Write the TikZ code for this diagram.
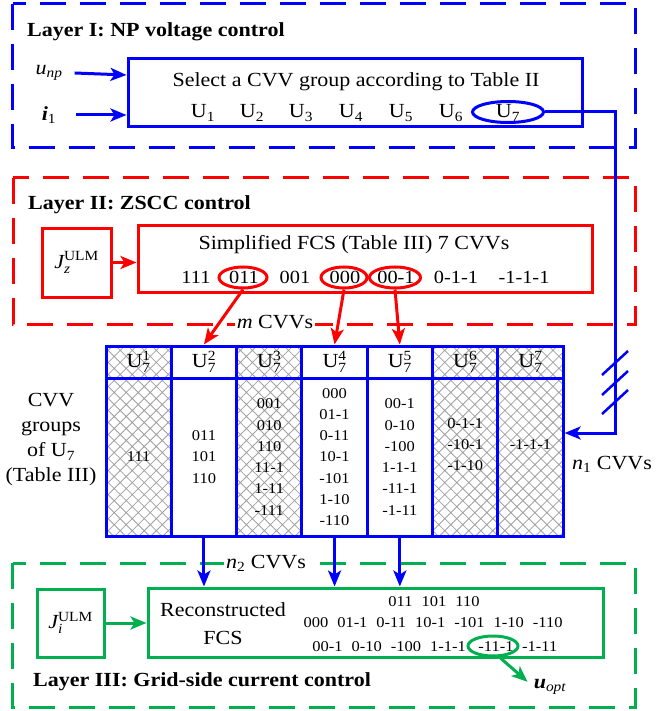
\documentclass[tikz,border=0pt]{standalone}
\usepackage{fontspec}
\usepackage{amsmath}
\setmainfont{Liberation Serif}[FakeStretch=1.1]
\usetikzlibrary{arrows.meta,patterns.meta,shapes.geometric}
\definecolor{myblue}{RGB}{0,0,255}
\definecolor{myred}{RGB}{255,0,0}
\definecolor{mygreen}{RGB}{0,176,80}
\newcommand\fbig{\fontsize{20}{25}\selectfont}
\newcommand\fmid{\fontsize{18.5}{22}\selectfont}
\newcommand\fcode{\fontsize{15}{21.3}\selectfont}
\newcommand\gp{\hspace{9pt}}
\newcommand\Uk[1]{U$^{\text{#1}}_{\text{7}}$}
\begin{document}
\begin{tikzpicture}[x=1pt,y=-1pt,
  dashbox/.style={line width=3pt, dash pattern=on 26pt off 14pt},
  box/.style={draw, line width=3pt, inner sep=0pt},
  arr/.style={line width=3pt, -{Stealth[length=16pt,width=13pt,inset=4pt]}},
  ell/.style={draw, ellipse, line width=3pt, inner sep=0pt},
  hatch/.style={pattern={Hatch[angle=45,distance=8.5pt,line width=0.8pt]}, pattern color=gray!75},
  txt/.style={inner sep=0pt, font=\fbig},
  code/.style={inner sep=0pt, font=\fmid},
  hcell/.style={box, myblue, minimum width=65.3pt, minimum height=32pt, font=\fbig, text=black},
  bcell/.style={box, myblue, minimum width=65.3pt, minimum height=158pt, font=\fcode, align=center, text=black},
]
\useasboundingbox (0,0) rectangle (655,711);

% ---------------- Layer I ----------------
\draw[dashbox, myblue] (12.5,4) rectangle (635,148);
\node[txt, anchor=west, font=\fbig\bfseries] (t1) at (27,32) {Layer I: NP voltage control};
\node[box, myblue, minimum width=454pt, minimum height=68pt] (sel) at (355,93) {};
\node[txt] (seltxt) at (356,82) {Select a CVV group according to Table II};
\node[txt] (u1) at (203,113) {U$_{\text{1}}$};
\node[txt] (u2) at (252,113) {U$_{\text{2}}$};
\node[txt] (u3) at (301,113) {U$_{\text{3}}$};
\node[txt] (u4) at (351,113) {U$_{\text{4}}$};
\node[txt] (u5) at (401,113) {U$_{\text{5}}$};
\node[txt] (u6) at (451,113) {U$_{\text{6}}$};
\node[txt] (u7) at (508,113) {U$_{\text{7}}$};
\node[ell, myblue, minimum width=71pt, minimum height=21pt] (eU7) at (508,112) {};
\node[txt] (unp) at (49,73) {\textit{u}$_{\text{\itshape np}}$};
\node[txt] (ione) at (49,115) {\textbf{\textit{i}}$_{\text{1}}$};
\draw[arr, myblue] ([xshift=12pt]unp.east) -- (sel.west |- 0,75);
\draw[arr, myblue] ([xshift=20pt]ione.east) -- (sel.west |- ione.east);

% ---------------- Layer II ----------------
\draw[dashbox, myred] (13,178) rectangle (635,324);
\node[txt, anchor=west, font=\fbig\bfseries] (t2) at (28,205) {Layer II: ZSCC control};
\node[box, myred, minimum width=69pt, minimum height=69pt] (jz) at (76.5,262.5) {};
\node[txt] (jztxt) at (76.5,262.5) {$\text{\itshape J}^{\text{ULM}}_{\text{\itshape z}}$};
\node[box, myred, minimum width=454pt, minimum height=67pt] (simp) at (365,258.5) {};
\node[txt] (simptxt) at (354,245) {Simplified FCS (Table III) 7 CVVs};
\draw[arr, myred] (jz.east) -- (simp.west |- jz.east);
\node[code] (c1) at (196,277) {111};
\node[code] (c2) at (244,277) {011};
\node[code] (c3) at (295,277) {001};
\node[code] (c4) at (345,277) {000};
\node[code] (c5) at (396,277) {00-1};
\node[code] (c6) at (456,277) {0-1-1};
\node[code] (c7) at (524,277) {-1-1-1};
\node[ell, myred, minimum width=48pt, minimum height=21pt] (e011) at (243,277.5) {};
\node[ell, myred, minimum width=46pt, minimum height=21pt] (e000) at (344,277.5) {};
\node[ell, myred, minimum width=51pt, minimum height=21pt] (e001) at (395,277.5) {};
\node[txt, fill=white, inner sep=2pt] (mlab) at (275,322) {\textit{m} CVVs};

% ---------------- Table ----------------
\node[hcell, hatch] (h1) at (138.65,362) {\Uk{1}};
\node[hcell] (h2) at (203.95,362) {\Uk{2}};
\node[hcell, hatch] (h3) at (269.25,362) {\Uk{3}};
\node[hcell] (h4) at (334.55,362) {\Uk{4}};
\node[hcell] (h5) at (399.85,362) {\Uk{5}};
\node[hcell, hatch] (h6) at (465.15,362) {\Uk{6}};
\node[hcell, hatch] (h7) at (530.45,362) {\Uk{7}};
\node[bcell, hatch] (b1) at (138.65,457) {111};
\node[bcell] (b2) at (203.95,457) {011\\101\\110};
\node[bcell, hatch] (b3) at (269.25,457) {001\\010\\110\\11-1\\1-11\\-111};
\node[bcell] (b4) at (334.55,457) {000\\01-1\\0-11\\10-1\\-101\\1-10\\-110};
\node[bcell] (b5) at (399.85,457) {00-1\\0-10\\-100\\1-1-1\\-11-1\\-1-11};
\node[bcell, hatch] (b6) at (465.15,457) {0-1-1\\-10-1\\-1-10\\[4pt]};
\node[bcell, hatch] (b7) at (530.45,457) {-1-1-1\\[4pt]};
\node[txt, align=center] (cvvg) at (51,440) {CVV\\groups\\of U$_{\text{7}}$\\(Table III)};

\draw[arr, myred] (e011.south) -- (h2.north);
\draw[arr, myred] (e000.south) -- (h4.north);
\draw[arr, myred] (e001.south) -- (h5.north);

% connection U7 -> table
\coordinate (bend) at (615,433);
\draw[arr, myblue] (eU7.east) -| (bend) -- (bend -| b7.east);
\foreach \yy in {363,383,402}
  \draw[myblue, line width=2.5pt] (602,\yy+12) -- (628,\yy-12);
\node[txt] (n1lab) at (612,464) {\textit{n}$_{\text{1}}$ CVVs};

% ---------------- Layer III ----------------
\draw[dashbox, mygreen] (12.5,563) rectangle (635,707);
\node[txt, anchor=west, font=\fbig\bfseries] (t3) at (33,682) {Layer III: Grid-side current control};
\node[box, mygreen, minimum width=67pt, minimum height=68pt] (ji) at (70.5,623) {};
\node[txt] (jitxt) at (70.5,623) {$\text{\itshape J}^{\text{ULM}}_{\text{\itshape i}}$};
\node[box, mygreen, minimum width=455pt, minimum height=69pt] (rfcs) at (375.5,622.5) {};
\draw[arr, mygreen] (ji.east) -- (rfcs.west |- ji.east);
\node[txt, align=center, font=\fontsize{20}{28}\selectfont] (rtxt) at (223,624) {Reconstructed\\FCS};
\node[inner sep=0pt, font=\fcode] (r1) at (434,602) {011\gp 101\gp 110};
\node[inner sep=0pt, font=\fcode] (r2) at (433,623) {000\gp 01-1\gp 0-11\gp 10-1\gp -101\gp 1-10\gp -110};
\node[inner sep=0pt, font=\fcode] (r3b) at (496,647) {-11-1};
\node[inner sep=0pt, font=\fcode, anchor=east] (r3a) at (466,647) {00-1\gp 0-10\gp -100\gp 1-1-1};
\node[inner sep=0pt, font=\fcode, anchor=west] (r3c) at (522,647) {-1-11};
\node[ell, mygreen, minimum width=50pt, minimum height=20pt] (eopt) at (493,646) {};
\node[txt] (uopt) at (550,687) {\textbf{\textit{u}}$_{\text{\itshape opt}}$};
\draw[arr, mygreen, shorten >=8pt] (eopt.-60) -- (uopt.west);
\node[txt, fill=white, inner sep=2pt] (n2lab) at (266,563) {\textit{n}$_{\text{2}}$ CVVs};

\draw[arr, myblue] (b2.south) -- (b2.south |- rfcs.north);
\draw[arr, myblue] (b4.south) -- (b4.south |- rfcs.north);
\draw[arr, myblue] (b5.south) -- (b5.south |- rfcs.north);
\end{tikzpicture}
\end{document}
